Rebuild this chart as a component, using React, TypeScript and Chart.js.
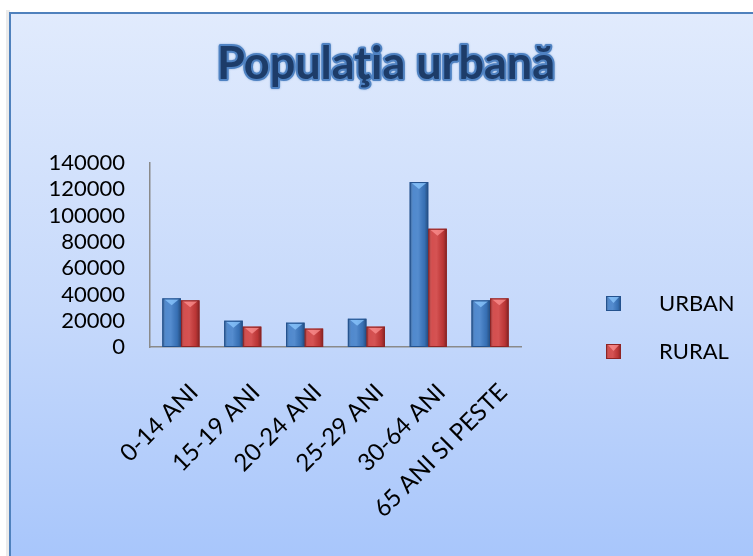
import React, { useEffect, useRef } from 'react';
import { Chart, registerables } from 'chart.js';

Chart.register(...registerables);

const TITLE = 'Populaţia urbană';
const CATEGORIES = ['0-14 ANI', '15-19 ANI', '20-24 ANI', '25-29 ANI', '30-64 ANI', '65 ANI SI PESTE'];
const SERIES_NAMES = ['URBAN', 'RURAL'];
const URBAN = [37000, 20000, 18500, 21500, 125500, 35500];
const RURAL = [35500, 15500, 14000, 15500, 90000, 37000];
const Y_MIN = 0;
const Y_MAX = 140000;
const Y_STEP = 20000;

const W = 753;
const H = 556;
const FONT = 'Lato, "Open Sans", sans-serif';

const BASE_COLORS = ['#3d7cc8', '#cf3b3b'];
const EDGE_COLORS = ['#24528e', '#8f2424'];

function shadeBar(ctx: CanvasRenderingContext2D, left: number, top: number, width: number, bottom: number, idx: number) {
  const g = ctx.createLinearGradient(left, 0, left + width, 0);
  g.addColorStop(0, 'rgba(0,0,0,0.35)');
  g.addColorStop(0.2, 'rgba(255,255,255,0.10)');
  g.addColorStop(0.45, 'rgba(255,255,255,0.12)');
  g.addColorStop(0.8, 'rgba(0,0,0,0.10)');
  g.addColorStop(1, 'rgba(0,0,0,0.38)');
  ctx.fillStyle = g;
  ctx.fillRect(left, top, width, bottom - top);
  const capH = Math.min(7, (bottom - top) * 0.5);
  ctx.beginPath();
  ctx.moveTo(left + 2, top + 1);
  ctx.lineTo(left + width - 2, top + 1);
  ctx.lineTo(left + width / 2, top + capH);
  ctx.closePath();
  ctx.fillStyle = idx === 0 ? 'rgba(140,200,255,0.75)' : 'rgba(255,150,150,0.7)';
  ctx.fill();
  ctx.strokeStyle = EDGE_COLORS[idx];
  ctx.lineWidth = 1;
  ctx.strokeRect(left + 0.5, top + 0.5, width - 1, bottom - top - 1);
}

const decorPlugin = {
  id: 'decor',
  beforeDraw(chart: any) {
    const ctx = chart.ctx as CanvasRenderingContext2D;
    ctx.save();
    ctx.fillStyle = '#ffffff';
    ctx.fillRect(0, 0, W, H);
    ctx.fillStyle = 'rgba(0,0,0,0.08)';
    ctx.fillRect(6, 10, 4, H);
    const g = ctx.createLinearGradient(0, 12, 0, H);
    g.addColorStop(0, '#e1ebfd');
    g.addColorStop(0.55, '#c6d9fb');
    g.addColorStop(1, '#a8c6fb');
    ctx.fillStyle = g;
    ctx.fillRect(10, 13, W + 20, H + 20);
    ctx.strokeStyle = '#4f81bd';
    ctx.lineWidth = 2;
    ctx.strokeRect(10, 13, W + 40, H + 40);
    // title
    ctx.font = `bold 45px ${FONT}`;
    ctx.textAlign = 'center';
    ctx.textBaseline = 'alphabetic';
    ctx.lineJoin = 'round';
    ctx.shadowColor = 'rgba(79,129,189,0.6)';
    ctx.shadowBlur = 2;
    ctx.strokeStyle = '#4f82c2';
    ctx.lineWidth = 4;
    ctx.strokeText(TITLE, 386, 79);
    ctx.shadowBlur = 0;
    ctx.fillStyle = '#1d3c69';
    ctx.fillText(TITLE, 386, 79);
    ctx.restore();
  },
  afterDatasetsDraw(chart: any) {
    const ctx = chart.ctx as CanvasRenderingContext2D;
    ctx.save();
    chart.data.datasets.forEach((_: any, di: number) => {
      const meta = chart.getDatasetMeta(di);
      meta.data.forEach((el: any) => {
        const left = el.x - el.width / 2;
        shadeBar(ctx, left, el.y, el.width, el.base, di);
      });
    });
    const legendY = [304, 352];
    SERIES_NAMES.forEach((name, i) => {
      const y = legendY[i];
      ctx.fillStyle = BASE_COLORS[i];
      ctx.fillRect(606, y - 8, 15, 15);
      shadeBar(ctx, 606, y - 8, 15, y + 7, i);
      ctx.fillStyle = '#000000';
      ctx.font = `22px ${FONT}`;
      ctx.textAlign = 'left';
      ctx.textBaseline = 'middle';
      ctx.fillText(name, 659, y);
    });
    ctx.restore();
  },
};

export default function App() {
  const ref = useRef<HTMLCanvasElement | null>(null);
  useEffect(() => {
    if (!ref.current) return;
    const chart = new Chart(ref.current, {
      type: 'bar',
      data: {
        labels: CATEGORIES,
        datasets: [
          { label: SERIES_NAMES[0], data: URBAN, backgroundColor: BASE_COLORS[0], categoryPercentage: 0.6, barPercentage: 1 },
          { label: SERIES_NAMES[1], data: RURAL, backgroundColor: BASE_COLORS[1], categoryPercentage: 0.6, barPercentage: 1 },
        ],
      },
      options: {
        animation: false,
        responsive: false,
        devicePixelRatio: 1,
        layout: { padding: { left: 0, right: 232, top: 163, bottom: 0 } },
        plugins: { legend: { display: false }, title: { display: false }, tooltip: { enabled: false } },
        scales: {
          x: {
            grid: { display: false, drawTicks: false },
            border: { display: true, color: '#8a8a8a', width: 1.5 },
            ticks: { color: '#000', font: { family: FONT, size: 24 }, minRotation: 45, maxRotation: 45, autoSkip: false, padding: 31, labelOffset: 13 },
            afterFit: (s: any) => { s.height = 209; },
          },
          y: {
            min: Y_MIN,
            max: Y_MAX,
            grid: { display: false, drawTicks: false },
            border: { display: true, color: '#8a8a8a', width: 1.5 },
            ticks: {
              stepSize: Y_STEP,
              autoSkip: false,
              color: '#000',
              font: { family: FONT, size: 22 },
              padding: 25,
              callback: (v: any) => String(v),
            },
            afterFit: (s: any) => { s.width = 150; },
          },
        },
      },
      plugins: [decorPlugin],
    });
    return () => chart.destroy();
  }, []);
  return (
    <div style={{ position: 'fixed', left: 0, top: 0, width: W, height: H, overflow: 'hidden' }}>
      <canvas ref={ref} width={W} height={H} style={{ width: W, height: H, display: 'block' }} />
    </div>
  );
}
